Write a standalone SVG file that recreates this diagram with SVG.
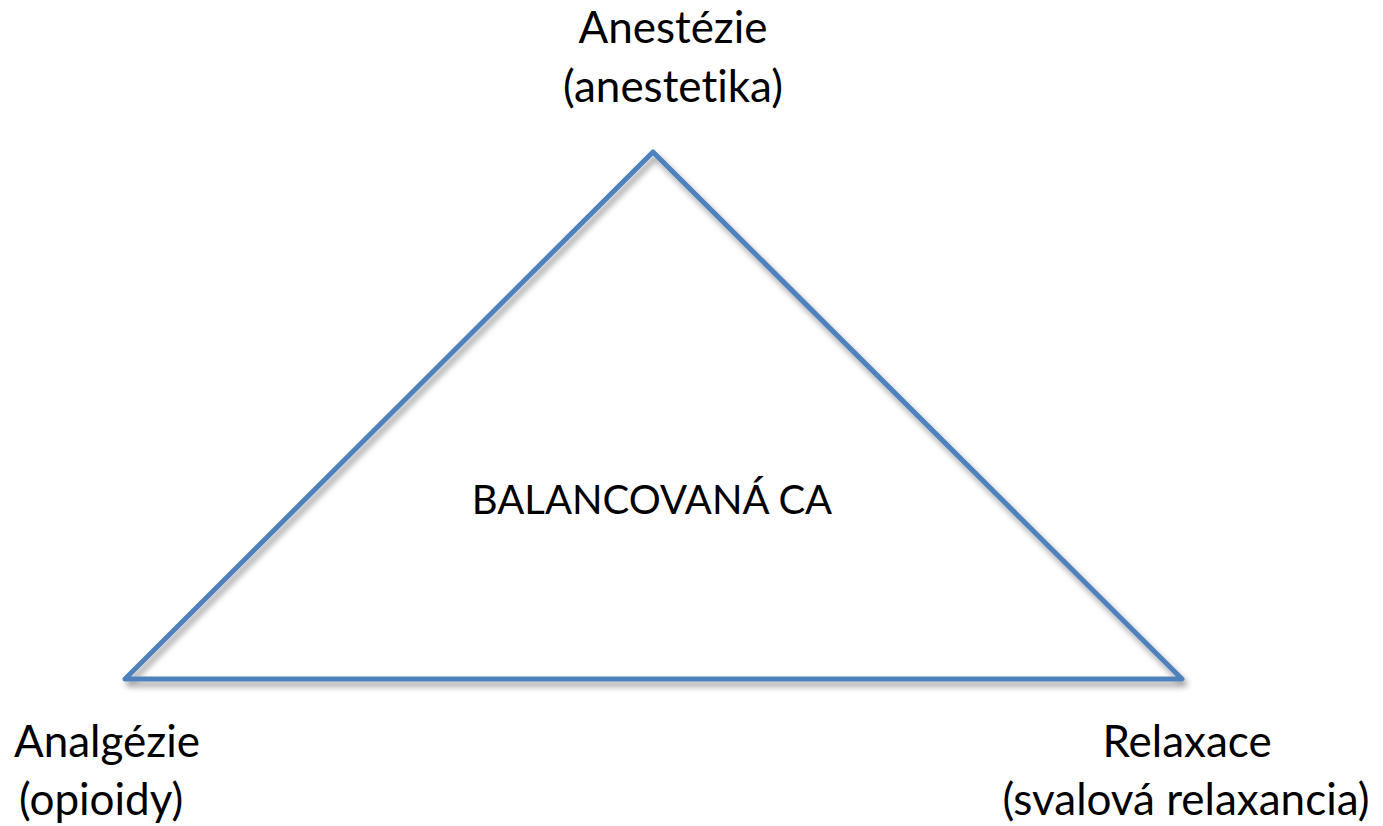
<svg xmlns="http://www.w3.org/2000/svg" width="1383" height="826" viewBox="0 0 1383 826">
  <style>
    .lbl { font-family: Lato, "Open Sans", "Liberation Sans", sans-serif; font-size: 44px; fill: #000; font-variant-ligatures: none; }
    .title { font-size: 40px; }
    .edge { fill: none; stroke: #4F81BD; stroke-width: 5; stroke-linejoin: round; stroke-linecap: round; }
  </style>
  <defs>
    <filter id="shadow" x="-10%" y="-10%" width="120%" height="130%">
      <feGaussianBlur in="SourceAlpha" stdDeviation="3"/>
      <feOffset dx="3" dy="5" result="b"/>
      <feComponentTransfer><feFuncA type="linear" slope="0.4"/></feComponentTransfer>
      <feMerge><feMergeNode/><feMergeNode in="SourceGraphic"/></feMerge>
    </filter>
  </defs>
  <rect width="1383" height="826" fill="#fff"/>
  <g id="connectors">
    <polygon class="edge" points="653,152 1182,679 125,679" filter="url(#shadow)"/>
  </g>
  <g id="center">
    <text class="lbl title" x="652" y="514" text-anchor="middle">BALANCOVANÁ CA</text>
  </g>
  <g id="anestezie">
    <text class="lbl" x="673" y="43" text-anchor="middle">Anestézie</text>
    <text class="lbl" x="673" y="102" text-anchor="middle">(anestetika)</text>
  </g>
  <g id="analgezie">
    <text class="lbl" x="14" y="757">Analgézie</text>
    <text class="lbl" x="19" y="815">(opioidy)</text>
  </g>
  <g id="relaxace">
    <text class="lbl" x="1187" y="757" text-anchor="middle">Relaxace</text>
    <text class="lbl" x="1186" y="815" text-anchor="middle">(svalová relaxancia)</text>
  </g>
</svg>
